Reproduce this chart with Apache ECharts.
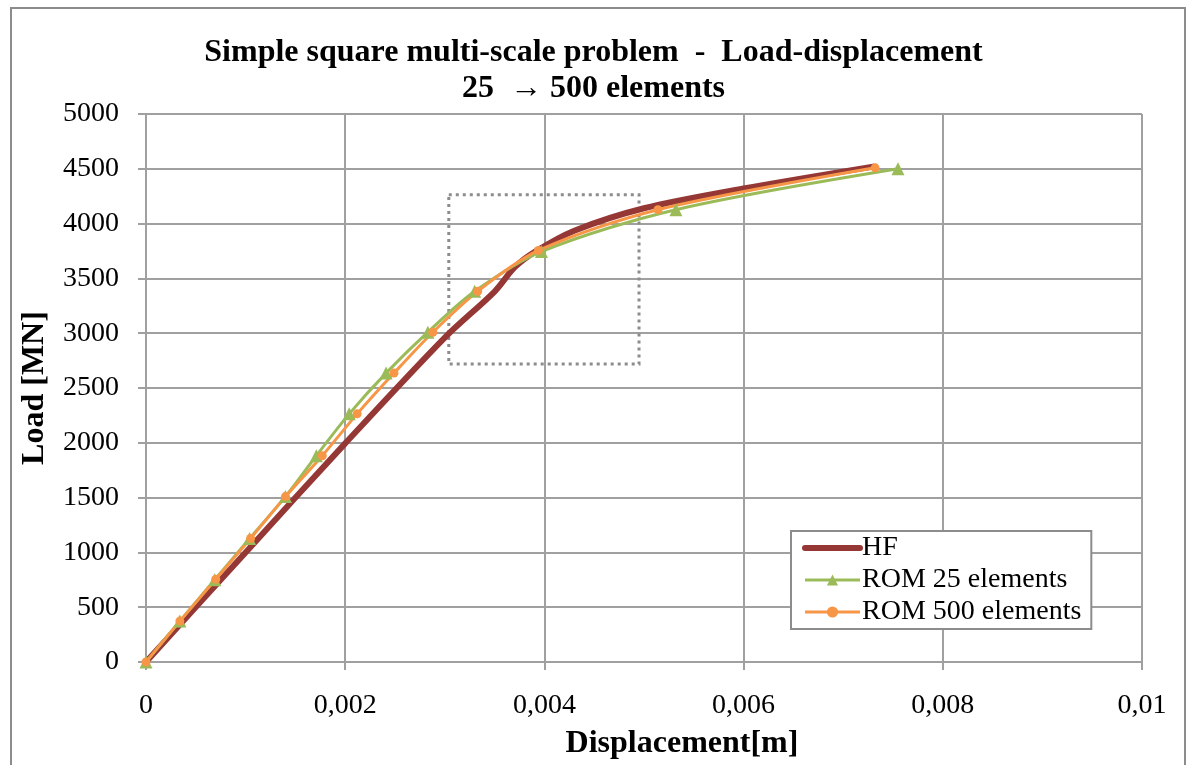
<!DOCTYPE html>
<html>
<head>
<meta charset="utf-8">
<title>Load-displacement</title>
<script src="https://cdn.jsdelivr.net/npm/echarts@6/dist/echarts.min.js"></script>
<style>
  html, body { margin: 0; padding: 0; background: #fff; overflow: hidden; }
  #frame {
    position: absolute; left: 10px; top: 7px; width: 1176px; height: 800px;
    border: 2px solid #8c8c8c; box-sizing: border-box;
  }
  #chart { position: absolute; left: 0; top: 0; width: 1187px; height: 765px; }
</style>
</head>
<body>
<div id="frame"></div>
<div id="chart"></div>
<script>
// [displacement m, load MN]
const hf = [
  [0, 0], [0.001, 1000], [0.002, 1995], [0.003, 2960], [0.0035, 3380],
  [0.0037, 3600], [0.0039, 3740], [0.0043, 3935], [0.005, 4140],
  [0.006, 4320], [0.0073, 4520]
];
const rom25 = [
  [0, 0], [0.00034, 373], [0.00069, 750], [0.00104, 1127], [0.0014, 1509],
  [0.00171, 1882], [0.00204, 2264], [0.00241, 2636], [0.00283, 3009],
  [0.0033, 3382], [0.00397, 3745], [0.00532, 4127], [0.00755, 4500]
];
const rom500 = [
  [0, 0], [0.00034, 373], [0.0007, 755], [0.00105, 1127], [0.0014, 1509],
  [0.00177, 1882], [0.00212, 2264], [0.00249, 2636], [0.00288, 3009],
  [0.00333, 3382], [0.00394, 3755], [0.00514, 4127], [0.00732, 4509]
];
const xTickLabels = ["0", "0,002", "0,004", "0,006", "0,008", "0,01"];
// zoom box corners [displacement, load]
const zoomBox = [[0.00304, 4264], [0.00495, 2718]];

const font = "'Liberation Serif', 'Times New Roman', serif";
const gridGray = "#a0a0a0";

const chart = echarts.init(document.getElementById("chart"));
const option = {
  animation: false,
  title: {
    text: "Simple square multi-scale problem  -  Load-displacement\n25  \u2192 500 elements",
    left: "center",
    top: 30,
    textStyle: { fontFamily: font, fontSize: 32, fontWeight: "bold", color: "#000", lineHeight: 36 },
  },
  grid: { left: 146, right: 45, top: 114, bottom: 101 },
  legend: {
    orient: "vertical",
    left: 791,
    top: 531,
    backgroundColor: "#fff",
    borderColor: "#8c8c8c",
    borderWidth: 2,
    borderRadius: 0,
    padding: [3, 10, 3, 11],
    itemGap: 4,
    itemWidth: 55,
    itemHeight: 14,
    textStyle: { fontFamily: font, fontSize: 28, color: "#000", padding: [0, 0, 0, -3] },
    data: [
      { name: "HF", itemStyle: { opacity: 0 }, lineStyle: { width: 6, cap: "round" } },
      { name: "ROM 25 elements", lineStyle: { width: 3 } },
      { name: "ROM 500 elements", lineStyle: { width: 3 } },
    ],
  },
  xAxis: {
    type: "value",
    min: 0,
    max: 0.01,
    interval: 0.002,
    name: "Displacement[m]",
    nameLocation: "middle",
    nameGap: 66,
    nameTextStyle: { fontFamily: font, fontSize: 32, fontWeight: "bold", color: "#000", padding: [0, 0, 0, 76] },
    axisLine: { lineStyle: { color: gridGray, width: 2 } },
    axisTick: { show: true, length: 8, lineStyle: { color: gridGray, width: 2 } },
    axisLabel: {
      fontFamily: font, fontSize: 28, color: "#000", margin: 30,
      formatter: (v) => xTickLabels[Math.round(v / 0.002)],
    },
    splitLine: { lineStyle: { color: gridGray, width: 2 } },
  },
  yAxis: {
    type: "value",
    min: 0,
    max: 5000,
    interval: 500,
    name: "Load [MN]",
    nameLocation: "middle",
    nameGap: 95,
    nameTextStyle: { fontFamily: font, fontSize: 32, fontWeight: "bold", color: "#000" },
    axisLine: { show: true, lineStyle: { color: gridGray, width: 2 } },
    axisTick: { show: true, length: 8, lineStyle: { color: gridGray, width: 2 } },
    axisLabel: { fontFamily: font, fontSize: 28, color: "#000", margin: 27, formatter: (v) => String(v) },
    splitLine: { lineStyle: { color: gridGray, width: 2 } },
  },
  series: [
    {
      name: "HF",
      type: "line",
      data: hf,
      smooth: 0.3,
      symbol: "none",
      color: "#953735",
      lineStyle: { width: 6, color: "#953735", cap: "round" },
      markArea: {
        silent: true,
        itemStyle: { color: "rgba(0,0,0,0)", borderColor: "#8c8c8c", borderWidth: 3, borderType: [3, 4] },
        data: [[{ coord: zoomBox[0] }, { coord: zoomBox[1] }]],
      },
    },
    {
      name: "ROM 25 elements",
      type: "line",
      data: rom25,
      smooth: 0.3,
      symbol: "triangle",
      symbolSize: 13,
      color: "#9bbb59",
      lineStyle: { width: 3, color: "#9bbb59" },
      itemStyle: { color: "#9bbb59" },
    },
    {
      name: "ROM 500 elements",
      type: "line",
      data: rom500,
      smooth: 0.3,
      symbol: "circle",
      symbolSize: 9,
      color: "#f79646",
      lineStyle: { width: 3, color: "#f79646" },
      itemStyle: { color: "#f79646" },
    },
  ],
};
chart.setOption(option);
</script>
</body>
</html>
